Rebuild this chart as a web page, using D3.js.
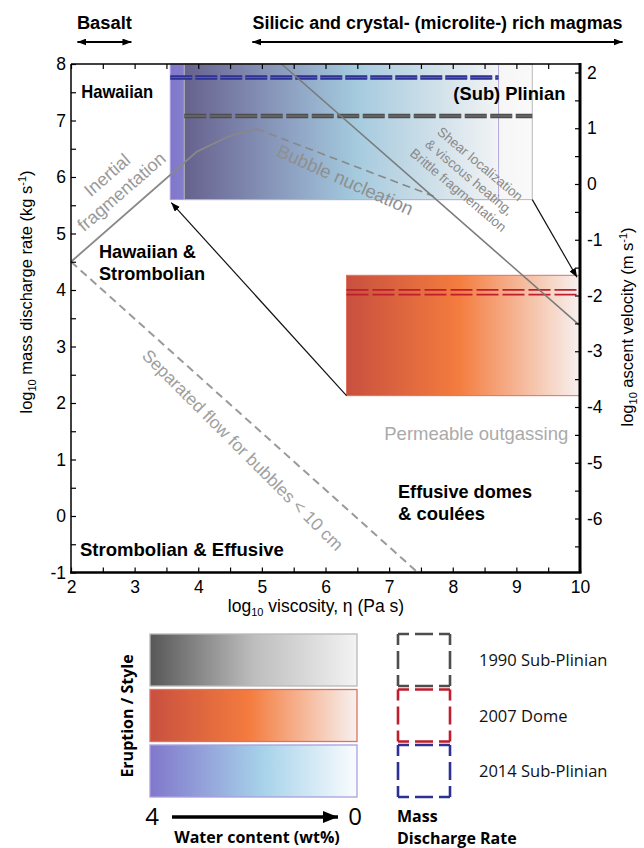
<!DOCTYPE html>
<html>
<head>
<meta charset="utf-8">
<script src="https://cdn.jsdelivr.net/npm/d3@7"></script>
<style>
body { margin: 0; background: #fff; }
svg { font-family: "Liberation Sans", Arial, sans-serif; }
.leg { font-family: "Open Sans", "Liberation Sans", sans-serif; }
</style>
</head>
<body>
<svg width="644" height="848"></svg>
<script>
// eruptions (box = range of viscosity / mass discharge rate, dashed = measured MDR)
var eruptions = ["1990 Sub-Plinian", "2007 Dome", "2014 Sub-Plinian"];
var viscLow = [3.78, 6.33, 3.56];
var viscHigh = [9.25, 10, 8.72];
var mdrLow = [5.6, 2.13, 5.6];
var mdrHigh = [8, 4.26, 8];
var mdrMeasured = [7.08, 3.96, 7.76];

// regime boundaries
var inertialX = [2, 3.98, 4.5, 4.92];
var inertialY = [4.5, 6.45, 6.73, 6.85];
var nucleationX = [4.92, 7.7];
var nucleationY = [6.85, 5.66];
var shearX = [5.31, 10];
var shearY = [8, 3.37];
var separatedX = [2, 7.45];
var separatedY = [4.5, -1];

// magma ranges on top
var magmaNames = ["Basalt", "Silicic and crystal- (microlite-) rich magmas"];
var magmaFrom = [2.1, 4.85];
var magmaTo = [2.95, 10.67];

var svg = d3.select("svg");
var x = d3.scaleLinear().domain([2, 10]).range([71, 580]);
var y = d3.scaleLinear().domain([-1, 8]).range([572.5, 64]);
var yv = d3.scaleLinear().domain([-6, 2]).range([518.5, 72.5]);

var defs = svg.append("defs");
function gradient(id, stops) {
    var g = defs.append("linearGradient").attr("id", id);
    stops.forEach(function(s) {
        g.append("stop").attr("offset", s[0]).attr("stop-color", s[1])
            .attr("stop-opacity", s.length > 2 ? s[2] : 1);
    });
}
var colors = ["#4d4d4d", "#be1e2d", "#2e3192"];
var gradIds = ["gGray", "gRed", "gBlue"];
gradient("gGray", [[0, "#575757"], [0.5, "#bdbdbd"], [1, "#f3f3f3"]]);
gradient("gRed", [[0, "#c8503f"], [0.48, "#f47c3e"], [1, "#f7f1f0"]]);
gradient("gBlue", [[0, "#8177cb"], [0.55, "#a7d3ea"], [1, "#fafcfe"]]);
gradient("gGrayOver", [[0, "#404040", 0.45], [0.5, "#808080", 0.12], [1, "#e6e6e6", 0.22]]);
var borders = ["#b8b8b8", "#e0705f", "#a99fe0"];

function marker(id, len, wid) {
    defs.append("marker").attr("id", id)
        .attr("markerUnits", "userSpaceOnUse")
        .attr("markerWidth", len).attr("markerHeight", wid)
        .attr("refX", len).attr("refY", wid / 2)
        .attr("orient", "auto-start-reverse")
        .append("path")
        .attr("d", "M0,0L" + len + "," + wid / 2 + "L0," + wid + "Z")
        .attr("fill", "#000");
}
marker("arr", 9, 7);
marker("arrBig", 15, 12);

var plot = svg.append("g");
// boxes: blue first, gray laid over it, red on its own
[2, 0, 1].forEach(function(i) {
    plot.append("rect")
        .attr("x", x(viscLow[i]))
        .attr("y", y(mdrHigh[i]))
        .attr("width", x(viscHigh[i]) - x(viscLow[i]))
        .attr("height", y(mdrLow[i]) - y(mdrHigh[i]))
        .attr("fill", "url(#" + (i == 0 ? "gGrayOver" : gradIds[i]) + ")")
        .attr("stroke", borders[i])
        .attr("stroke-width", 1);
});

// measured discharge rates
var dashes = ["22 3.5", "22 4", "22 3"];
[0, 2].forEach(function(i) {
    plot.append("line")
        .attr("x1", x(viscLow[i])).attr("x2", x(viscHigh[i]))
        .attr("y1", y(mdrMeasured[i])).attr("y2", y(mdrMeasured[i]))
        .attr("stroke", colors[i]).attr("stroke-width", 4.5)
        .attr("stroke-dasharray", dashes[i]);
    plot.append("line")
        .attr("x1", x(viscLow[i])).attr("x2", x(viscHigh[i]))
        .attr("y1", y(mdrMeasured[i])).attr("y2", y(mdrMeasured[i]))
        .attr("stroke", i == 0 ? "#7a7a7a" : "#5a5ac8").attr("stroke-width", 1)
        .attr("stroke-dasharray", dashes[i]);
});
[-2.4, 2.4].forEach(function(off) {
    plot.append("line")
        .attr("x1", x(viscLow[1])).attr("x2", x(viscHigh[1]))
        .attr("y1", y(mdrMeasured[1]) + off).attr("y2", y(mdrMeasured[1]) + off)
        .attr("stroke", colors[1]).attr("stroke-width", 1.6)
        .attr("stroke-dasharray", dashes[1]);
});

var line = d3.line().x(function(d) { return x(d[0]); }).y(function(d) { return y(d[1]); });
function zip(a, b) { return a.map(function(v, i) { return [v, b[i]]; }); }

plot.append("path").attr("d", line(zip(inertialX, inertialY)))
    .attr("fill", "none").attr("stroke", "#888").attr("stroke-width", 1.8);
plot.append("path").attr("d", line(zip(nucleationX, nucleationY)))
    .attr("fill", "none").attr("stroke", "#888").attr("stroke-width", 1.6)
    .attr("stroke-dasharray", "8 5");
plot.append("path").attr("d", line(zip(shearX, shearY)))
    .attr("fill", "none").attr("stroke", "#7a7a7a").attr("stroke-width", 1.6);
plot.append("path").attr("d", line(zip(separatedX, separatedY)))
    .attr("fill", "none").attr("stroke", "#9a9a9a").attr("stroke-width", 2)
    .attr("stroke-dasharray", "8 5");

// arrows linking the eruptions
plot.append("line")
    .attr("x1", x(viscLow[1])).attr("y1", y(mdrLow[1]))
    .attr("x2", x(viscLow[2]) + 1).attr("y2", y(mdrLow[2]) + 3)
    .attr("stroke", "#111").attr("stroke-width", 1.2).attr("marker-end", "url(#arr)");
plot.append("line")
    .attr("x1", x(viscHigh[0])).attr("y1", y(mdrLow[0]))
    .attr("x2", x(viscHigh[1]) - 3).attr("y2", y(mdrHigh[1]) + 2)
    .attr("stroke", "#111").attr("stroke-width", 1.2).attr("marker-end", "url(#arr)");

// text labels (width fitted to the original condensed font)
function label(txt, vx, vy, opt) {
    var t = plot.append("text").attr("x", x(vx)).attr("y", y(vy))
        .attr("font-size", opt.size || 18.5)
        .attr("font-weight", opt.bold ? "bold" : "normal")
        .attr("fill", opt.color || "#000")
        .attr("text-anchor", opt.anchor || "start");
    if (opt.len) t.attr("textLength", opt.len).attr("lengthAdjust", "spacingAndGlyphs");
    t.text(txt);
    return t;
}
label("Hawaiian", 2.16, 7.4, {bold: true, len: 72});
label("(Sub) Plinian", 9.77, 7.36, {bold: true, anchor: "end", len: 112});
label("Hawaiian &", 2.44, 4.57, {bold: true, len: 97});
label("Strombolian", 2.44, 4.18, {bold: true, len: 106});
label("Strombolian & Effusive", 2.14, -0.71, {bold: true, len: 204});
label("Effusive domes", 7.14, 0.31, {bold: true, len: 134});
label("& coulées", 7.14, -0.07, {bold: true, len: 87});
label("Permeable outgassing", 8.37, 1.35, {size: 18.5, color: "#aaa", anchor: "middle", len: 184});

function rotLabel(lines, vx, vy, angle, size, color, lh) {
    var g = plot.append("g")
        .attr("transform", "translate(" + x(vx) + "," + y(vy) + ") rotate(" + angle + ")");
    lines.forEach(function(s, i) {
        g.append("text").attr("x", 0)
            .attr("y", (i - (lines.length - 1) / 2) * lh)
            .attr("dy", "0.35em")
            .attr("text-anchor", "middle")
            .attr("font-size", size).attr("fill", color).text(s);
    });
}
rotLabel(["Inertial", "fragmentation"], 2.68, 5.89, -41, 18, "#999", 22);
rotLabel(["Bubble nucleation"], 6.31, 5.95, 24, 18.5, "#8f8f8f", 0);
rotLabel(["Separated flow for bubbles < 10 cm"], 4.70, 1.17, 45, 17.5, "#a0a0a0", 0);
rotLabel(["Shear localization", "& viscous heating,", "Brittle fragmentation"], 8.26, 6.0, 40, 13.5, "#8a8a8a", 17);

// magma ranges
var magmaLen = [55, 370];
magmaNames.forEach(function(n, i) {
    var mid = (x(magmaFrom[i]) + x(magmaTo[i])) / 2;
    svg.append("text").attr("x", mid).attr("y", 29)
        .attr("text-anchor", "middle").attr("font-weight", "bold")
        .attr("font-size", 17.5)
        .attr("textLength", magmaLen[i]).attr("lengthAdjust", "spacingAndGlyphs")
        .text(n);
    svg.append("line").attr("x1", x(magmaFrom[i])).attr("x2", x(magmaTo[i]))
        .attr("y1", 42).attr("y2", 42)
        .attr("stroke", "#000").attr("stroke-width", 1.8)
        .attr("marker-start", "url(#arr)").attr("marker-end", "url(#arr)");
});

// axes
function halves(a, b) { return d3.range(a, b + 0.01, 0.5); }
function whole(d) { return d % 1 ? "" : d; }
var ax = svg.append("g");
function drawAxis(axis, tr, labels) {
    var g = ax.append("g").attr("transform", tr).call(axis);
    g.select(".domain").remove();
    g.selectAll("text").attr("font-family", "Liberation Sans, Arial, sans-serif")
        .attr("font-size", 17.5).attr("fill", "#000");
    g.selectAll("line").attr("stroke", "#000").attr("stroke-width", 1.2);
    if (!labels) g.selectAll("text").remove();
    return g;
}
drawAxis(d3.axisBottom(x).tickValues(halves(2, 10)).tickSize(-5).tickFormat(whole).tickPadding(8),
    "translate(0," + y(-1) + ")", true);
drawAxis(d3.axisTop(x).tickValues(halves(2, 10)).tickSize(-5), "translate(0," + y(8) + ")", false);
drawAxis(d3.axisLeft(y).tickValues(halves(-1, 8)).tickSize(-5).tickFormat(whole).tickPadding(5),
    "translate(" + x(2) + ",0)", true);
drawAxis(d3.axisRight(yv).tickValues(halves(-6.5, 2)).tickSize(-5).tickFormat(whole).tickPadding(7),
    "translate(" + x(10) + ",0)", true);

// frame
svg.append("line").attr("x1", x(2)).attr("x2", x(10)).attr("y1", y(8)).attr("y2", y(8)).attr("stroke", "#000").attr("stroke-width", 1.5);
svg.append("line").attr("x1", x(2)).attr("x2", x(2)).attr("y1", y(8)).attr("y2", y(-1)).attr("stroke", "#000").attr("stroke-width", 1.5);
svg.append("line").attr("x1", x(2) - 1).attr("x2", x(10) + 1.5).attr("y1", y(-1)).attr("y2", y(-1)).attr("stroke", "#000").attr("stroke-width", 2.5);
svg.append("line").attr("x1", x(10)).attr("x2", x(10)).attr("y1", y(8) - 1).attr("y2", y(-1)).attr("stroke", "#000").attr("stroke-width", 3);

// axis titles
function subSup(t, parts) {
    parts.forEach(function(p) {
        var s = t.append("tspan").text(p[0]);
        if (p[1] == "sub") s.attr("font-size", 11).attr("dy", 4);
        if (p[1] == "sup") s.attr("font-size", 11).attr("dy", -6);
        if (p[1] == "back") s.attr("dy", p[2]);
    });
}
var xl = svg.append("text").attr("x", 316).attr("y", 612).attr("text-anchor", "middle").attr("font-size", 17.5);
subSup(xl, [["log"], ["10", "sub"], [" viscosity, η (Pa s)", "back", -4]]);
var yl = svg.append("text").attr("transform", "translate(32,292) rotate(-90)").attr("text-anchor", "middle").attr("font-size", 16.5);
subSup(yl, [["log"], ["10", "sub"], [" mass discharge rate (kg s", "back", -4], ["-1", "sup"], [")", "back", 6]]);
var vl = svg.append("text").attr("transform", "translate(633,327) rotate(-90)").attr("text-anchor", "middle").attr("font-size", 16.5);
subSup(vl, [["log"], ["10", "sub"], [" ascent velocity (m s", "back", -4], ["-1", "sup"], [")", "back", 6]]);

// legend
var row = d3.scaleBand().domain(eruptions).range([634, 797]).paddingInner(0.063);
var leg = svg.append("g").attr("class", "leg");
eruptions.forEach(function(e, i) {
    leg.append("rect").attr("x", 150).attr("y", row(e)).attr("width", 207).attr("height", row.bandwidth())
        .attr("fill", "url(#" + gradIds[i] + ")").attr("stroke", borders[i]).attr("stroke-width", 1.3);
    var x0 = 398, x1 = 450, y0 = row(e), y1 = row(e) + row.bandwidth();
    [[x0, y0, x1, y0], [x1, y0, x1, y1], [x1, y1, x0, y1], [x0, y1, x0, y0]].forEach(function(s) {
        leg.append("line").attr("x1", s[0]).attr("y1", s[1]).attr("x2", s[2]).attr("y2", s[3])
            .attr("stroke", colors[i]).attr("stroke-width", 2.6)
            .attr("stroke-dasharray", "11 6 18 6 11");
    });
    leg.append("text").attr("x", 479).attr("y", row(e) + row.bandwidth() / 2 + 6)
        .attr("font-size", 16.5).attr("fill", "#111").text(e);
});
leg.append("text").attr("transform", "translate(133,716) rotate(-90)").attr("text-anchor", "middle")
    .attr("font-weight", "bold").attr("font-size", 16).text("Eruption / Style");
leg.append("text").attr("x", 152).attr("y", 825).attr("text-anchor", "middle").attr("font-size", 24).text("4");
leg.append("text").attr("x", 355).attr("y", 825).attr("text-anchor", "middle").attr("font-size", 24).text("0");
leg.append("line").attr("x1", 172).attr("x2", 338).attr("y1", 817).attr("y2", 817)
    .attr("stroke", "#000").attr("stroke-width", 3.5).attr("marker-end", "url(#arrBig)");
leg.append("text").attr("x", 257).attr("y", 843).attr("text-anchor", "middle")
    .attr("font-weight", "bold").attr("font-size", 16).text("Water content (wt%)");
leg.append("text").attr("x", 397).attr("y", 822).attr("font-weight", "bold").attr("font-size", 16).text("Mass");
leg.append("text").attr("x", 397).attr("y", 844).attr("font-weight", "bold").attr("font-size", 16).text("Discharge Rate");
</script>
</body>
</html>
